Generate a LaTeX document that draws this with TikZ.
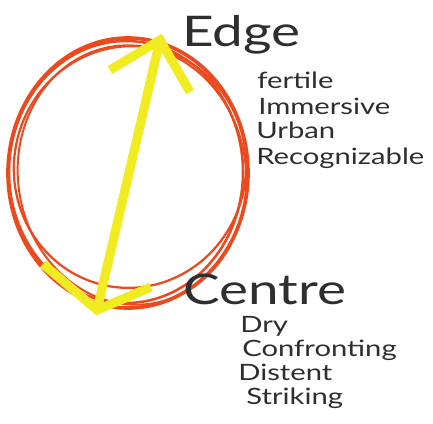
\documentclass[tikz,border=0pt]{standalone}
\usepackage{fontspec}
\setmainfont{Lato}
\newfontfamily\handfont[FakeStretch=1.3]{Lato}
\usepackage{tikz}
\usetikzlibrary{positioning}

\definecolor{ringred}{HTML}{EC4A1E}
\definecolor{arrowyellow}{HTML}{F1EB22}
\definecolor{inkgray}{HTML}{2E2E2E}

\begin{document}
\begin{tikzpicture}[
                x=0.025cm, y=-0.025cm,
                ring/.style={draw=ringred, line width=2.6pt},
                yarrow/.style={draw=arrowyellow, line width=6.5pt, line cap=butt, line join=miter},
                title/.style={text=inkgray, font=\handfont\fontsize{30}{32}\selectfont, anchor=base west, inner sep=0pt},
                word/.style={text=inkgray, font=\handfont\fontsize{16}{18}\selectfont, anchor=base west, inner sep=0pt},
            ]
            \useasboundingbox (0,0) rectangle (433,423);

            % sketched ring
            \draw[ring] (128,173) ellipse [x radius=120, y radius=135];
            \draw[ring, line width=1.6pt, rotate around={-10:(130,167)}] (130,167) ellipse [x radius=116, y radius=121];
            \draw[ring, line width=1.4pt, rotate around={8:(132,175)}] (132,175) ellipse [x radius=114, y radius=130];
            \draw[ring, line width=1.8pt] (126,172) ellipse [x radius=117, y radius=131];

            % yellow arrow between the two poles
            \coordinate (edgept) at (160,40);
            \coordinate (centrept) at (97,310);
            \coordinate (edgebarbl) at (110,70);
            \coordinate (edgebarbr) at (190,92);
            \coordinate (centrebarbl) at (43,264);
            \coordinate (centrebarbr) at (151,287);
            \draw[yarrow] (centrept) -- (edgept);
            \draw[yarrow] (edgebarbl) -- (edgept) -- (edgebarbr);
            \draw[yarrow] (centrebarbl) -- (centrept) -- (centrebarbr);

            \node[title] (edge) at (182,46) {Edge};
            \node[word] (fertile) at (257,88) {fertile};
            \node[word] (immersive) at (258,114) {Immersive};
            \node[word] (urban) at (256,138) {Urban};
            \node[word] (recog) at (256,164) {Recognizable};

            \node[title] (centre) at (183,304) {Centre};
            \node[word] (dry) at (240,332) {Dry};
            \node[word] (confront) at (242,356) {Confronting};
            \node[word] (distent) at (238,380) {Distent};
            \node[word] (striking) at (246,404) {Striking};
        \end{tikzpicture}
\end{document}
